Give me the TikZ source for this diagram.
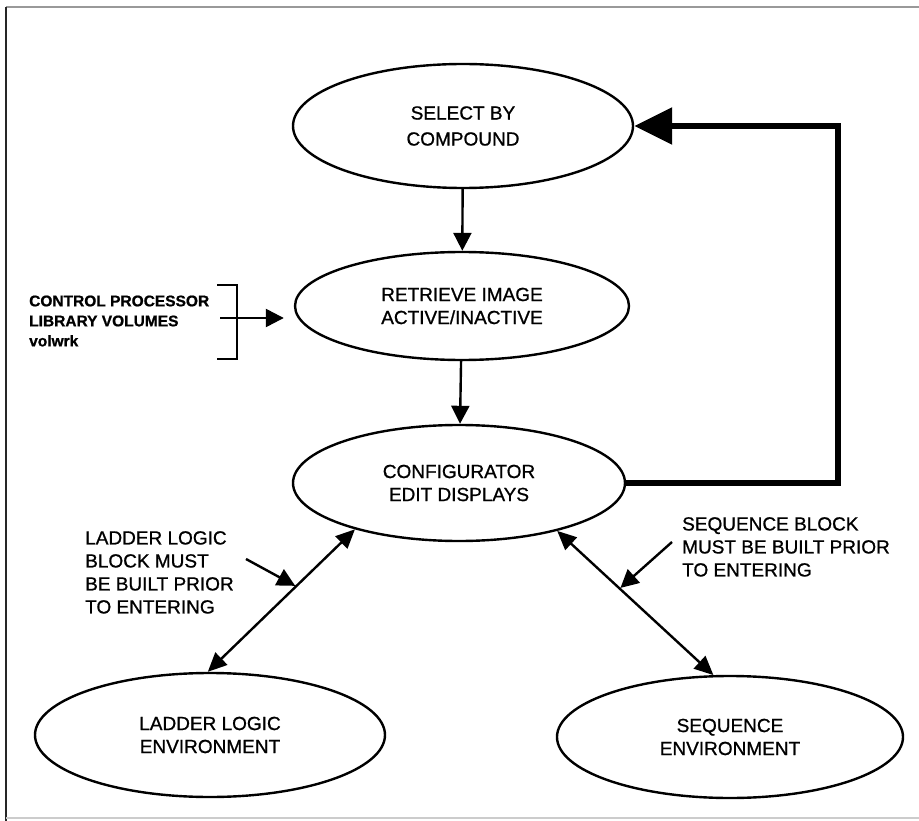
\documentclass[tikz,border=0pt]{standalone}
\usepackage{fontspec}
\usetikzlibrary{shapes.geometric,arrows.meta}
\newfontfamily\labfont[FakeBold=0.9]{Liberation Sans}
\begin{document}
\begin{tikzpicture}[x=1pt,y=-1pt,
  state/.style={ellipse,draw,line width=2.4pt,inner sep=0pt,align=center,
    font=\labfont\fontsize{19}{23}\selectfont},
  flow/.style={line width=2.4pt,-{Triangle[length=18pt,width=18pt]}},
  twoway/.style={line width=2.4pt,
    {Triangle[length=19pt,width=17pt]}-{Triangle[length=19pt,width=17pt]}},
  note/.style={align=left,inner sep=0pt,font=\labfont\fontsize{19}{23}\selectfont},
  srcnote/.style={align=left,inner sep=0pt,font=\labfont\bfseries\fontsize{15.5}{20}\selectfont},
  feedback/.style={line width=6pt,-{Triangle[length=38pt,width=36pt]}},
]
\useasboundingbox (0,0) rectangle (919,821);
\fill[white] (0,0) rectangle (919,821);

% sheet border
\draw[black!40,line width=2.5pt] (6,7) -- (919,7);
\draw[black!85,line width=2pt] (6,7) -- (6,821);
\draw[black!20,line width=1.5pt] (6,818) -- (919,818);

% states
\node[state,minimum width=340pt,minimum height=124pt] (sel) at (463,126) {SELECT BY\\[3pt]COMPOUND};
\node[state,minimum width=334pt,minimum height=108pt] (ret) at (462,306) {RETRIEVE IMAGE\\ACTIVE/INACTIVE};
\node[state,minimum width=332pt,minimum height=116pt] (conf) at (459,483) {CONFIGURATOR\\EDIT DISPLAYS};
\node[state,minimum width=350pt,minimum height=124pt] (lad) at (210,735) {LADDER LOGIC\\ENVIRONMENT};
\node[state,minimum width=346pt,minimum height=122pt] (seq) at (730,737) {SEQUENCE\\ENVIRONMENT};

% main flow
\draw[flow] (sel) -- (ret);
\draw[flow] (ret) -- (conf);

% return path to the start
\coordinate (fbB) at (838,483);
\draw[feedback] (conf.east) -- (fbB) -- (fbB |- sel.east) -- (sel.east);

% source bracket
\coordinate (bt) at (237,285);
\coordinate (bb) at (237,359);
\coordinate (bm) at (220,318);
\draw[line width=2.4pt] ([xshift=-20pt]bt) -- (bt) -- (bb) -- ([xshift=-20pt]bb);
\draw[flow,shorten >=10pt] (bm) -- (bm -| ret.west);
\node[srcnote,anchor=west] (src) at (29,321) {CONTROL PROCESSOR\\LIBRARY VOLUMES\\volwrk};

% environments
\draw[twoway] (conf.204) -- coordinate[pos=0.4] (lmid) (lad.92);
\draw[twoway] (conf.334) -- coordinate[pos=0.4] (rmid) (seq.105);

% prerequisite notes
\node[note,anchor=north west] (lnote) at (85,531) {LADDER LOGIC\\BLOCK MUST\\BE BUILT PRIOR\\TO ENTERING};
\node[note,anchor=north west] (rnote) at (682,517) {SEQUENCE BLOCK\\MUST BE BUILT PRIOR\\TO ENTERING};
\coordinate (ltail) at (246,559);
\coordinate (rtail) at (672,542);
\draw[flow,shorten >=1pt] (ltail) -- (lmid);
\draw[flow,shorten >=1pt] (rtail) -- (rmid);
\end{tikzpicture}
\end{document}
